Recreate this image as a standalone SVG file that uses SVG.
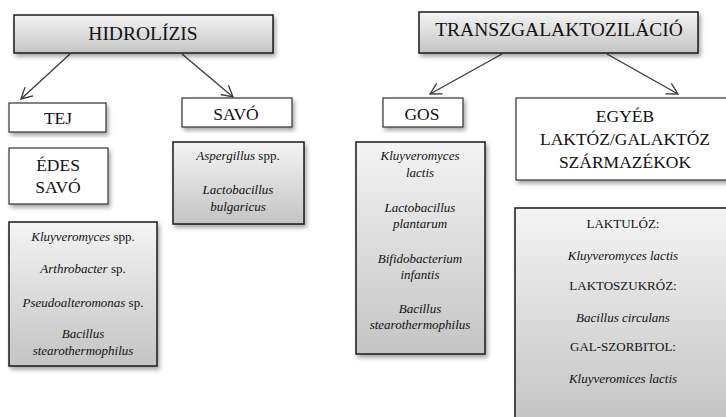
<svg xmlns="http://www.w3.org/2000/svg" width="726" height="417" viewBox="0 0 726 417">
<defs>
<linearGradient id="g" x1="0" y1="0" x2="0" y2="1">
<stop offset="0" stop-color="#f4f4f4"/>
<stop offset="1" stop-color="#c4c4c4"/>
</linearGradient>
<filter id="sh" x="-10%" y="-10%" width="130%" height="130%">
<feDropShadow dx="2" dy="3" stdDeviation="2" flood-color="#000" flood-opacity="0.35"/>
</filter>
<marker id="ah" markerWidth="14" markerHeight="14" refX="12" refY="7" orient="auto" markerUnits="userSpaceOnUse">
<path d="M1,1 L12,7 L1,13" fill="none" stroke="#3a3a3a" stroke-width="1.3"/>
</marker>
</defs>
<style>
.gb{fill:url(#g);stroke:#1a1a1a;stroke-width:1.5;filter:url(#sh)}
.wb{fill:#fff;stroke:#333;stroke-width:1.2;filter:url(#sh)}
.t{font-family:"Liberation Serif",serif;fill:#111;text-anchor:middle}
.h{font-size:19.5px}
.m{font-size:17.5px}
.s{font-size:13px}
.i{font-style:italic}
.c{stroke:#3a3a3a;stroke-width:1.3;fill:none;marker-end:url(#ah)}
</style>
<rect width="726" height="417" fill="#fff"/>
<g id="connectors">
<line class="c" x1="70" y1="54" x2="21" y2="99"/>
<line class="c" x1="182" y1="54" x2="233" y2="97"/>
<line class="c" x1="502" y1="54" x2="430" y2="94"/>
<line class="c" x1="607" y1="54" x2="678" y2="94"/>
</g>
<g id="hidrolizis">
<rect class="gb" x="14" y="15" width="259" height="38"/>
<text class="t h" x="143" y="39.5">HIDROLÍZIS</text>
</g>
<g id="transzgalaktozilacio">
<rect class="gb" x="419" y="12" width="279" height="41"/>
<text class="t h" x="559" y="35.5">TRANSZGALAKTOZILÁCIÓ</text>
</g>
<g id="tej">
<rect class="wb" x="9" y="103" width="97" height="29"/>
<text class="t m" x="58" y="124">TEJ</text>
</g>
<g id="savo">
<rect class="wb" x="182" y="98" width="110" height="29"/>
<text class="t m" x="236" y="120">SAVÓ</text>
</g>
<g id="gos">
<rect class="wb" x="383" y="98" width="80" height="29"/>
<text class="t m" x="422" y="120">GOS</text>
</g>
<g id="egyeb">
<rect class="wb" x="516" y="98" width="220" height="82"/>
<text class="t m" x="625" y="122">EGYÉB</text>
<text class="t m" x="625" y="145">LAKTÓZ/GALAKTÓZ</text>
<text class="t m" x="625" y="168">SZÁRMAZÉKOK</text>
</g>
<g id="edes-savo">
<rect class="wb" x="9" y="148" width="99" height="56"/>
<text class="t m" x="58" y="171">ÉDES</text>
<text class="t m" x="58" y="193">SAVÓ</text>
</g>
<g id="edes-list">
<rect class="gb" x="9" y="222" width="148" height="144"/>
<text class="t s" x="83" y="241"><tspan class="i">Kluyveromyces</tspan> spp.</text>
<text class="t s" x="83" y="273"><tspan class="i">Arthrobacter</tspan> sp.</text>
<text class="t s" x="83" y="307"><tspan class="i">Pseudoalteromonas</tspan> sp.</text>
<text class="t s i" x="83" y="338">Bacillus</text>
<text class="t s i" x="83" y="355">stearothermophilus</text>
</g>
<g id="savo-list">
<rect class="gb" x="173" y="142" width="131" height="82"/>
<text class="t s" x="238" y="160"><tspan class="i">Aspergillus</tspan> spp.</text>
<text class="t s i" x="238" y="194">Lactobacillus</text>
<text class="t s i" x="238" y="211">bulgaricus</text>
</g>
<g id="gos-list">
<rect class="gb" x="356" y="142" width="129" height="212"/>
<text class="t s i" x="420" y="160">Kluyveromyces</text>
<text class="t s i" x="420" y="177">lactis</text>
<text class="t s i" x="420" y="212">Lactobacillus</text>
<text class="t s i" x="420" y="228">plantarum</text>
<text class="t s i" x="420" y="263">Bifidobacterium</text>
<text class="t s i" x="420" y="279">infantis</text>
<text class="t s i" x="420" y="313">Bacillus</text>
<text class="t s i" x="420" y="329">stearothermophilus</text>
</g>
<g id="egyeb-list">
<rect class="gb" x="515" y="208" width="218" height="215"/>
<text class="t s" x="623" y="228">LAKTULÓZ:</text>
<text class="t s i" x="623" y="260">Kluyveromyces lactis</text>
<text class="t s" x="623" y="290">LAKTOSZUKRÓZ:</text>
<text class="t s i" x="623" y="322">Bacillus circulans</text>
<text class="t s" x="623" y="351">GAL-SZORBITOL:</text>
<text class="t s i" x="623" y="383">Kluyveromices lactis</text>
</g>
</svg>
